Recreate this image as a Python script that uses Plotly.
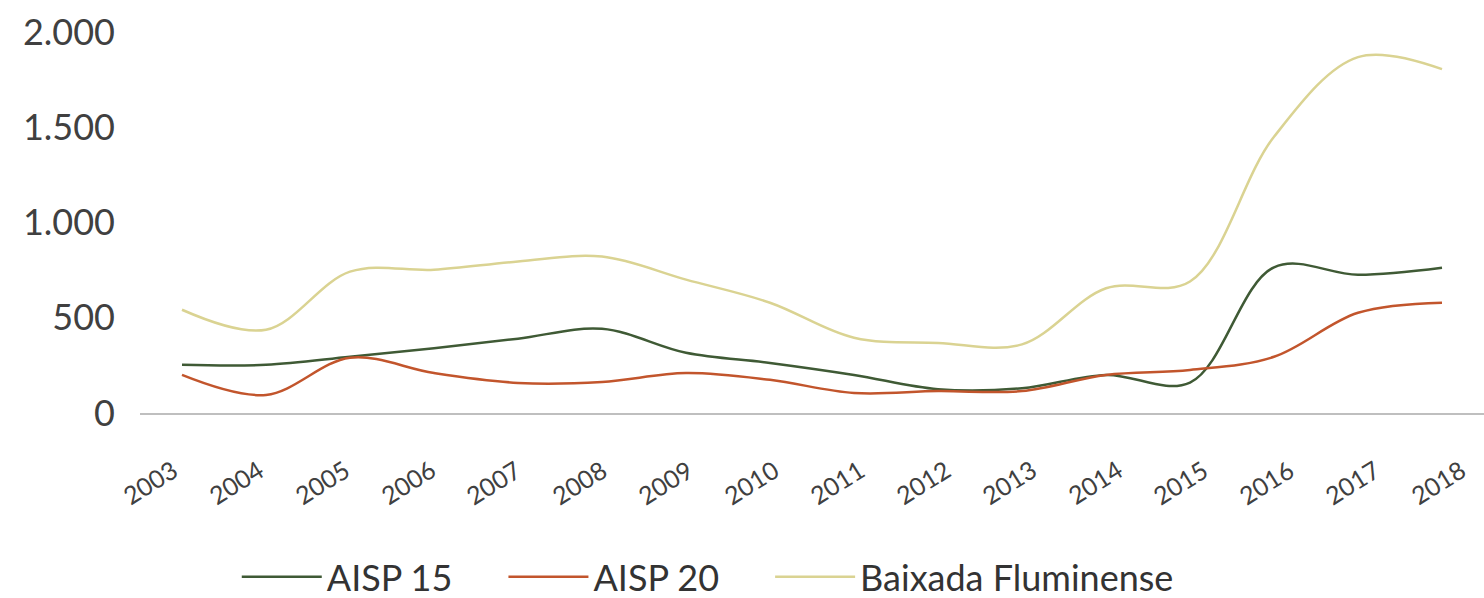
import plotly.graph_objects as go

years = ["2003", "2004", "2005", "2006", "2007", "2008", "2009", "2010",
         "2011", "2012", "2013", "2014", "2015", "2016", "2017", "2018"]
aisp15 = [253, 253, 295, 340, 390, 442, 316, 263, 200, 125, 130, 200, 160, 765, 726, 763]
aisp20 = [200, 95, 290, 210, 158, 163, 210, 174, 105, 115, 115, 200, 226, 295, 526, 579]
baixada = [542, 437, 742, 752, 795, 821, 700, 579, 395, 368, 360, 655, 690, 1450, 1868, 1805]
y_ticks = [0, 500, 1000, 1500, 2000]
y_tick_text = ["0", "500", "1.000", "1.500", "2.000"]

NB = "\u00a0"
series = [
    ("AISP 15", NB * 5, aisp15, "#3f5a35"),
    ("AISP 20", NB * 5, aisp20, "#c2552c"),
    ("Baixada Fluminense", "", baixada, "#dad392"),
]

fig = go.Figure()
for name, pad, vals, color in series:
    fig.add_trace(go.Scatter(
        x=years, y=vals, name=name + pad, mode="lines",
        line=dict(color=color, width=2.5, shape="spline", smoothing=1.0),
    ))

n = len(years)
for i, yr in enumerate(years):
    fig.add_annotation(
        x=i, y=-0.181, xref="x", yref="paper", text=yr, showarrow=False,
        textangle=-32, font=dict(family="Lato", size=25, color="#404040"),
        xanchor="center", yanchor="middle",
        xshift=-32 + 28 * i / (n - 1),
    )

fig.update_layout(
    width=1484, height=598,
    margin=dict(l=140, r=0, t=32, b=185, autoexpand=False),
    paper_bgcolor="white", plot_bgcolor="white",
    font=dict(family="Lato", color="#404040"),
    showlegend=True,
    legend=dict(
        orientation="h", x=0.072, xanchor="left", y=-0.43, yanchor="middle",
        font=dict(family="Lato", size=36, color="#333333"),
        itemwidth=80,
    ),
    xaxis=dict(
        type="category", range=[-0.5, 15.5], showgrid=False,
        showticklabels=False, showline=True, linecolor="#bfbfbf", linewidth=1.5,
        ticks="", zeroline=False,
    ),
    yaxis=dict(
        range=[0, 2000], tickvals=y_ticks, ticktext=y_tick_text,
        showgrid=False, zeroline=False, showline=False, ticks="",
        tickfont=dict(family="Lato", size=36, color="#404040"),
        ticklabelstandoff=24,
    ),
)

fig.write_html("out.html", config={"displayModeBar": False},
               post_script="document.body.style.margin='0';")
